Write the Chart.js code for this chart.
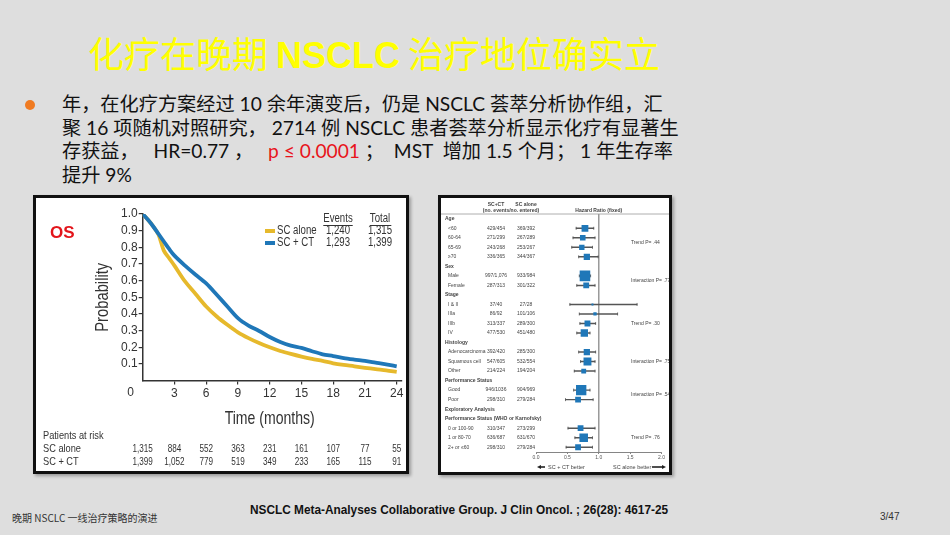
<!DOCTYPE html>
<html lang="zh-CN">
<head>
<meta charset="utf-8">
<title>化疗在晚期 NSCLC 治疗地位确实立</title>
<script src="https://cdn.jsdelivr.net/npm/chart.js@4.4.1/dist/chart.umd.min.js"></script>
<style>
    html, body { margin: 0; padding: 0; }
    body { width: 950px; height: 535px; background: #dedede; position: relative; overflow: hidden;
           font-family: Lato, "Noto Sans CJK SC", sans-serif; }
    .title { position: absolute; left: 0; top: 28px; width: 748px; text-align: center; color: #ffff00;
             font-size: 36px; line-height: 48px; font-family: "Noto Sans CJK SC", sans-serif; }
    .title b { font-family: "Liberation Sans", Arial, sans-serif; font-weight: bold; }
    .dot { position: absolute; left: 25px; top: 100px; width: 10px; height: 10px; border-radius: 50%; background: #f07b22; }
    .bullet { position: absolute; left: 62px; top: 92px; font-size: 19.2px; line-height: 23.7px; color: #111; white-space: pre; }
    .red { color: #e8141b; }
    .panel { position: absolute; background: #fff; border: 3px solid #111; box-shadow: 2px 2px 3px rgba(0,0,0,0.3); }
    #left { left: 33px; top: 195px; width: 370px; height: 273px; }
    #right { left: 438px; top: 195px; width: 228px; height: 274px; }
    .panel canvas { display: block; }
    .foot1 { position: absolute; left: 12px; top: 510px; font-size: 10px; color: #333; font-family: "Noto Sans CJK SC", sans-serif; }
    .foot2 { position: absolute; left: 250px; top: 502px; font: bold 13px "Liberation Sans", sans-serif; color: #111;
             transform: scaleX(0.91); transform-origin: left center; white-space: nowrap; }
    .foot3 { position: absolute; left: 880px; top: 511px; font-size: 10px; color: #333; font-family: "Liberation Sans", sans-serif; }
</style>
</head>
<body>
<div class="title">化疗在晚期 <b>NSCLC</b> 治疗地位确实立</div>
<div class="dot"></div>
<div class="bullet">年，在化疗方案经过 10 余年演变后，仍是 NSCLC 荟萃分析协作组，汇
聚 16 项随机对照研究， 2714 例 NSCLC 患者荟萃分析显示化疗有显著生
存获益，   HR=0.77 ，   <span class="red">p ≤ 0.0001</span> ；  MST  增加 1.5 个月； 1 年生存率
提升 9%</div>

<div class="panel" id="left"><canvas id="km" width="370" height="273"></canvas></div>
<div class="panel" id="right"><canvas id="forest" width="228" height="274"></canvas></div>

<div class="foot1">晚期 NSCLC 一线治疗策略的演进</div>
<div class="foot2">NSCLC Meta-Analyses Collaborative Group. J Clin Oncol. ; 26(28): 4617-25</div>
<div class="foot3">3/47</div>

<script>
// ===== Data: Kaplan-Meier OS =====
const months = [0, 0.5, 1, 1.5, 2, 2.5, 3, 4, 5, 6, 7, 8, 9, 10, 11, 12, 13, 14, 15, 16, 17, 18, 19, 20, 21, 22, 23, 24];
const survSC = [1.0, 0.965, 0.925, 0.875, 0.78, 0.735, 0.69, 0.595, 0.52, 0.445, 0.385, 0.335, 0.29, 0.255, 0.225, 0.2, 0.178, 0.16, 0.144, 0.13, 0.118, 0.104, 0.094, 0.086, 0.077, 0.069, 0.062, 0.053];
const survCT = [1.0, 0.965, 0.925, 0.88, 0.835, 0.79, 0.75, 0.69, 0.635, 0.583, 0.515, 0.445, 0.375, 0.33, 0.298, 0.262, 0.232, 0.21, 0.196, 0.176, 0.158, 0.147, 0.135, 0.126, 0.118, 0.108, 0.098, 0.086];
const seriesNames = ['SC alone', 'SC + CT'];
const events = [1240, 1293];
const totals = [1315, 1399];
const riskTimes = [0, 3, 6, 9, 12, 15, 18, 21, 24];
const riskSC = [1315, 884, 552, 363, 231, 161, 107, 77, 55];
const riskCT = [1399, 1052, 779, 519, 349, 233, 165, 115, 91];

// ===== Data: forest plot (subgroups) =====
const fpRows = ['Age', '<60', '60-64', '65-69', '≥70', 'Sex', 'Male', 'Female', 'Stage', 'I & II', 'IIIa', 'IIIb', 'IV',
    'Histology', 'Adenocarcinoma', 'Squamous cell', 'Other', 'Performance Status', 'Good', 'Poor',
    'Exploratory Analysis', 'Performance Status (WHO or Karnofsky)', '0 or 100-90', '1 or 80-70', '2+ or ≤60'];
const fpCT = ['', '429/454', '271/299', '243/268', '336/365', '', '997/1,076', '287/313', '', '37/40', '86/92', '313/337', '477/530',
    '', '392/420', '547/605', '214/224', '', '946/1036', '298/310', '', '', '310/347', '636/687', '298/310'];
const fpSC = ['', '369/392', '267/289', '253/267', '344/367', '', '933/984', '301/322', '', '27/28', '101/106', '289/300', '451/480',
    '', '285/300', '532/554', '194/204', '', '904/969', '279/284', '', '', '273/299', '631/670', '279/284'];
const fpHR = [null, 0.78, 0.745, 0.73, 0.81, null, 0.78, 0.80, null, 0.90, 0.94, 0.82, 0.77,
    null, 0.81, 0.82, 0.76, null, 0.72, 0.67, null, null, 0.71, 0.76, 0.67];
const fpLo = [null, 0.64, 0.59, 0.57, 0.68, null, 0.69, 0.65, null, 0.54, 0.69, 0.70, 0.65,
    null, 0.68, 0.71, 0.61, null, 0.60, 0.47, null, null, 0.51, 0.62, 0.48];
const fpHi = [null, 0.92, 0.94, 0.90, 0.99, null, 0.87, 0.94, null, 1.61, 1.30, 0.95, 0.86,
    null, 0.95, 0.94, 0.94, null, 0.86, 0.91, null, null, 0.94, 0.90, 0.90];
const fpNotes = [['Trend P= .44', '60-64', '65-69'], ['Interaction P= .77', 'Male', 'Female'], ['Trend P= .30', 'IIIb'],
    ['Interaction P= .75', 'Squamous cell'], ['Interaction P= .54', 'Good', 'Poor'], ['Trend P= .76', '1 or 80-70']];
const hrTicks = [0, 0.5, 1, 1.5, 2];

const BLUE = '#1f77b8';
const YELLOW = '#e6b92c';
const SANS = '"Liberation Sans", Arial, sans-serif';
const fmt = n => n.toLocaleString('en-US');

Chart.defaults.font.family = SANS;
Chart.defaults.color = '#333';

// condensed text, like the narrow face of the original figure
function narrowText(ctx, text, x, y, sx, align) {
    ctx.save();
    ctx.translate(x, y);
    ctx.scale(sx, 1);
    ctx.textAlign = align;
    ctx.fillText(text, 0, 0);
    ctx.restore();
}

// ===== KM chart =====
const kmExtras = {
    id: 'kmExtras',
    afterDraw(chart) {
        const { ctx, chartArea: a, scales: { x, y } } = chart;
        ctx.save();
        ctx.textBaseline = 'middle';

        ctx.fillStyle = '#e3151b';
        ctx.font = 'bold 17px ' + SANS;
        ctx.textAlign = 'left';
        ctx.fillText('OS', 14, 35);

        ctx.fillStyle = '#333';
        // axis titles
        ctx.font = '18.5px ' + SANS;
        narrowText(ctx, 'Time (months)', x.getPixelForValue(12), 221, 0.76, 'center');
        ctx.save();
        ctx.translate(67, (a.top + a.bottom) / 2);
        ctx.rotate(-Math.PI / 2);
        narrowText(ctx, 'Probability', 0, 0, 0.8, 'center');
        ctx.restore();

        // legend with events / totals
        ctx.font = '12.5px ' + SANS;
        ctx.strokeStyle = '#333';
        ctx.lineWidth = 1;
        const evX = a.right - 64, totX = a.right - 22;
        [['Events', evX], ['Total', totX]].forEach(([t, cx]) => {
            narrowText(ctx, t, cx, a.top + 5, 0.77, 'center');
            const w = ctx.measureText(t).width * 0.77;
            ctx.beginPath(); ctx.moveTo(cx - w / 2, a.top + 11.5); ctx.lineTo(cx + w / 2, a.top + 11.5); ctx.stroke();
        });
        const colors = [YELLOW, BLUE];
        seriesNames.forEach((name, i) => {
            const ly = a.top + 17 + i * 12;
            ctx.strokeStyle = colors[i];
            ctx.lineWidth = 4;
            ctx.beginPath(); ctx.moveTo(a.right - 137, ly); ctx.lineTo(a.right - 127, ly); ctx.stroke();
            narrowText(ctx, name, a.right - 125, ly, 0.77, 'left');
            narrowText(ctx, fmt(events[i]), evX, ly, 0.77, 'center');
            narrowText(ctx, fmt(totals[i]), totX, ly, 0.77, 'center');
        });

        // "0" at the origin corner
        ctx.font = '12px ' + SANS;
        ctx.textAlign = 'center';
        ctx.fillText('0', x.getPixelForValue(0) - 12, y.getPixelForValue(0) + 12.5);

        // patients at risk
        ctx.font = '11px ' + SANS;
        narrowText(ctx, 'Patients at risk', 7, 238, 0.84, 'left');
        narrowText(ctx, 'SC alone', 7, 251, 0.84, 'left');
        narrowText(ctx, 'SC + CT', 7, 264, 0.84, 'left');
        riskTimes.forEach((t, i) => {
            const px = x.getPixelForValue(t);
            narrowText(ctx, fmt(riskSC[i]), px, 251, 0.74, 'center');
            narrowText(ctx, fmt(riskCT[i]), px, 264, 0.74, 'center');
        });
        ctx.restore();
    }
};

new Chart(document.getElementById('km'), {
    type: 'line',
    data: {
        datasets: [
            { label: seriesNames[0], data: months.map((m, i) => ({ x: m, y: survSC[i] })),
              borderColor: YELLOW, borderWidth: 3.8, pointRadius: 0, tension: 0.3, order: 1 },
            { label: seriesNames[1], data: months.map((m, i) => ({ x: m, y: survCT[i] })),
              borderColor: BLUE, borderWidth: 3.8, pointRadius: 0, tension: 0.3, order: 0 }
        ]
    },
    options: {
        responsive: false, animation: false, devicePixelRatio: 1,
        layout: { padding: { left: 84, right: 4, top: 16, bottom: 68 } },
        plugins: { legend: { display: false }, tooltip: { enabled: false } },
        scales: {
            x: {
                type: 'linear', min: 0, max: 24.5,
                afterBuildTicks: s => { s.ticks = riskTimes.filter(t => t > 0).map(t => ({ value: t })); },
                ticks: { padding: 2, maxRotation: 0, autoSkip: false, color: '#333', font: { size: 12 } },
                grid: { drawOnChartArea: false, tickLength: 4, color: '#333', lineWidth: 1.2 },
                border: { color: '#333', width: 1.5 }
            },
            y: {
                min: 0, max: 1,
                afterBuildTicks: s => { s.ticks = s.ticks.filter(t => t.value > 0.001); },
                ticks: { stepSize: 0.1, padding: 1, autoSkip: false, color: '#333', font: { size: 12 }, callback: v => v.toFixed(1) },
                grid: { drawOnChartArea: false, tickLength: 4, color: '#333', lineWidth: 1.2 },
                border: { color: '#333', width: 1.5 }
            }
        }
    },
    plugins: [kmExtras]
});

// ===== Forest plot =====
const evCount = i => [fpCT[i], fpSC[i]].reduce((s, t) => s + parseInt(t.split('/')[0].replace(',', ''), 10), 0);
const fpIdx = fpRows.map((r, i) => i).filter(i => fpHR[i] != null);

const forestExtras = {
    id: 'forestExtras',
    beforeDatasetsDraw(chart) {
        const { ctx, chartArea: a, scales: { x } } = chart;
        ctx.save();
        ctx.strokeStyle = '#999';
        ctx.lineWidth = 0.8;
        ctx.beginPath(); ctx.moveTo(0, 16); ctx.lineTo(chart.width, 16); ctx.stroke();
        ctx.lineWidth = 1.5;
        const px = x.getPixelForValue(1);
        ctx.beginPath(); ctx.moveTo(px, 16); ctx.lineTo(px, a.bottom); ctx.stroke();
        ctx.restore();
    },
    afterDraw(chart) {
        const { ctx, scales: { x, y } } = chart;
        ctx.save();
        ctx.fillStyle = '#444';
        ctx.textBaseline = 'middle';
        ctx.font = 'bold 5px ' + SANS;
        ctx.textAlign = 'center';
        ctx.fillText('SC+CT', 55, 7);
        ctx.fillText('SC alone', 85, 7);
        ctx.fillText('(no. events/no. entered)', 70, 13);
        ctx.fillText('Hazard Ratio (fixed)', x.getPixelForValue(1), 13);

        fpRows.forEach((r, i) => {
            const py = y.getPixelForValue(i);
            const head = fpHR[i] == null;
            ctx.font = (head ? 'bold ' : '') + '5px ' + SANS;
            ctx.textAlign = 'left';
            ctx.fillText(r, head ? 4 : 7, py);
            ctx.textAlign = 'center';
            ctx.fillText(fpCT[i], 55, py);
            ctx.fillText(fpSC[i], 85, py);
        });

        ctx.font = '5px ' + SANS;
        ctx.textAlign = 'left';
        fpNotes.forEach(([t, ...rows]) => {
            const py = rows.reduce((s, r) => s + y.getPixelForValue(fpRows.indexOf(r)), 0) / rows.length;
            ctx.fillText(t, 190, py);
        });

        // direction arrows
        const ay = chart.height - 5;
        ctx.font = '5.5px ' + SANS;
        ctx.fillText('SC + CT better', 107, ay);
        ctx.fillText('SC alone better', 172, ay);
        ctx.strokeStyle = '#222';
        ctx.fillStyle = '#222';
        ctx.lineWidth = 1.6;
        [[104, 96], [211, 225]].forEach(([x0, x1]) => {
            const d = Math.sign(x1 - x0);
            ctx.beginPath(); ctx.moveTo(x0, ay); ctx.lineTo(x1 - d * 2, ay); ctx.stroke();
            ctx.beginPath(); ctx.moveTo(x1, ay); ctx.lineTo(x1 - d * 4, ay - 2); ctx.lineTo(x1 - d * 4, ay + 2); ctx.closePath();
            ctx.fill();
        });
        ctx.restore();
    }
};

new Chart(document.getElementById('forest'), {
    type: 'bar',
    data: {
        labels: fpRows,
        datasets: [
            { type: 'scatter', data: fpIdx.map(i => ({ x: fpHR[i], y: fpRows[i] })),
              pointStyle: 'rect', pointRadius: fpIdx.map(i => Math.max(1.4, 0.17 * Math.sqrt(evCount(i)))),
              backgroundColor: BLUE, borderColor: BLUE, borderWidth: 0, order: 0 },
            { type: 'bar', data: fpLo.map((l, i) => (l == null ? null : [l, fpHi[i]])),
              backgroundColor: '#555', barThickness: 0.8, order: 3 },
            { type: 'scatter', data: fpIdx.map(i => ({ x: fpLo[i], y: fpRows[i] })),
              pointStyle: 'line', rotation: 90, pointRadius: 1.5, borderColor: '#555', borderWidth: 0.8, order: 2 },
            { type: 'scatter', data: fpIdx.map(i => ({ x: fpHi[i], y: fpRows[i] })),
              pointStyle: 'line', rotation: 90, pointRadius: 1.5, borderColor: '#555', borderWidth: 0.8, order: 2 }
        ]
    },
    options: {
        indexAxis: 'y',
        responsive: false, animation: false, devicePixelRatio: 1,
        layout: { padding: { left: 95, right: 4, top: 16, bottom: 10 } },
        plugins: { legend: { display: false }, tooltip: { enabled: false } },
        scales: {
            x: {
                type: 'linear', min: 0, max: 2,
                afterBuildTicks: s => { s.ticks = hrTicks.map(v => ({ value: v })); },
                ticks: { padding: 1, color: '#555', font: { size: 5 }, callback: v => v.toFixed(1) },
                grid: { drawOnChartArea: false, tickLength: 2, color: '#666', lineWidth: 0.8 },
                border: { color: '#666', width: 0.8 }
            },
            y: { type: 'category', display: false, offset: true }
        }
    },
    plugins: [forestExtras]
});
</script>
</body>
</html>
